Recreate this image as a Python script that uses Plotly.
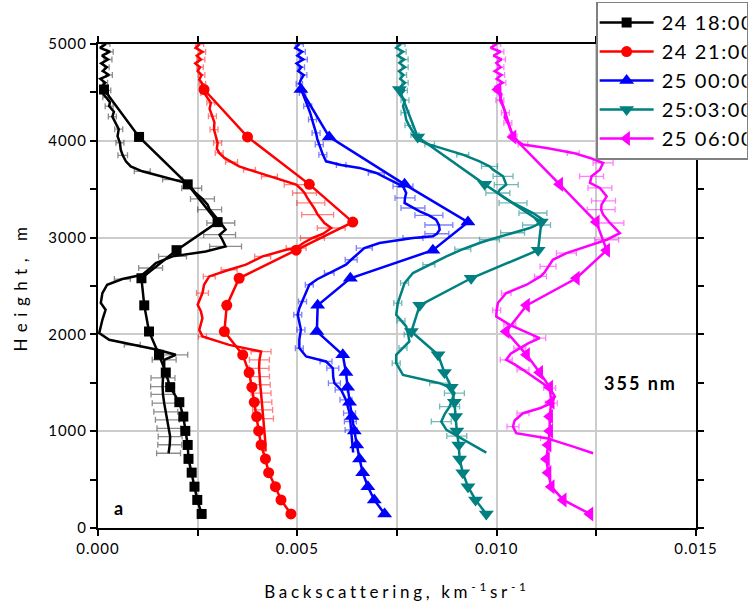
import plotly.graph_objects as go

# ---- coarse profiles (marker lines) ----
coarse_height = [145, 290, 427, 572, 714, 858, 1003, 1151, 1300, 1455, 1606, 1789,
                 2030, 2300, 2580, 2870, 3160, 3550, 4040, 4530]

coarse_2418 = [0.00260, 0.00249, 0.00242, 0.00235, 0.00227, 0.00225, 0.00219, 0.00214,
               0.00204, 0.00181, 0.00170, 0.00153, 0.00128, 0.00116, 0.00109, 0.00197,
               0.00300, 0.00225, 0.00103, 0.00015]
coarse_2421 = [0.00484, 0.00459, 0.00445, 0.00428, 0.00420, 0.00409, 0.00403, 0.00398,
               0.00392, 0.00386, 0.00379, 0.00363, 0.00317, 0.00323, 0.00354, 0.00497,
               0.00639, 0.00530, 0.00375, 0.00266]
coarse_2500 = [0.00719, 0.00693, 0.00677, 0.00664, 0.00656, 0.00649, 0.00643, 0.00637,
               0.00631, 0.00626, 0.00622, 0.00614, 0.00549, 0.00551, 0.00633, 0.00840,
               0.00928, 0.00769, 0.00580, 0.00509]
coarse_2503 = [0.00974, 0.00947, 0.00928, 0.00915, 0.00907, 0.00905, 0.00900, 0.00897,
               0.00894, 0.00886, 0.00869, 0.00853, 0.00786, 0.00807, 0.00936, 0.01104,
               0.01112, 0.00970, 0.00802, 0.00756]
coarse_2506 = [0.01234, 0.01167, 0.01137, 0.01129, 0.01125, 0.01129, 0.01133, 0.01133,
               0.01137, 0.01133, 0.01108, 0.01075, 0.01024, 0.01075, 0.01200, 0.01276,
               0.01250, 0.01158, 0.01041, 0.01003]

# ---- detailed profiles (height, value, error) ----
fine_2418_h = [5000, 4960, 4920, 4880, 4840, 4800, 4760, 4720, 4680, 4640, 4600, 4560, 4520,
               4495, 4450, 4400, 4357, 4300, 4250, 4185, 4120, 4047, 3980, 3909, 3850, 3788,
               3736, 3685, 3640, 3599, 3565, 3510, 3461, 3400, 3340, 3290, 3237, 3151, 3082,
               3030, 2978, 2909, 2857, 2806, 2737, 2686, 2616, 2572, 2513, 2427, 2324, 2254,
               2151, 2013, 1944, 1892, 1841, 1789, 1737, 1634, 1550, 1461, 1380, 1290, 1200,
               1117, 1030, 944, 860, 772]
fine_2418_v = [0.00020, 0.00005, 0.00030, 0.00010, 0.00025, 0.00008, 0.00022, 0.00012,
               0.00028, 0.00006, 0.00018, 0.00010, 0.00024, 0.00011, 0.00020, 0.00030,
               0.00028, 0.00040, 0.00036, 0.00044, 0.00052, 0.00049, 0.00055, 0.00057,
               0.00062, 0.00070, 0.00082, 0.00111, 0.00150, 0.00187, 0.00220, 0.00235,
               0.00245, 0.00262, 0.00275, 0.00280, 0.00291, 0.00308, 0.00320, 0.00305,
               0.00312, 0.00320, 0.00270, 0.00187, 0.00145, 0.00132, 0.00111, 0.00061,
               0.00023, 0.00011, 0.00007, 0.00019, 0.00011, 0.00003, 0.00028, 0.00086,
               0.00149, 0.00195, 0.00166, 0.00166, 0.00163, 0.00162, 0.00163, 0.00166,
               0.00170, 0.00174, 0.00178, 0.00181, 0.00180, 0.00177]
fine_2418_e = [0.00010, 0, 0.00008, 0, 0.00010, 0, 0.00006, 0, 0.00008, 0, 0.00006, 0, 0.00008,
               0, 0.00008, 0, 0.00010, 0, 0.00010, 0, 0.00010, 0, 0.00010, 0, 0.00012, 0,
               0, 0.00020, 0, 0.00025, 0, 0.00025, 0, 0.00030, 0, 0.00030, 0, 0.00035, 0,
               0.00040, 0, 0.00040, 0, 0.00035, 0, 0.00030, 0, 0.00020, 0, 0, 0, 0, 0, 0,
               0, 0.00020, 0, 0.00030, 0.00030, 0, 0.00030, 0.00030, 0.00030, 0.00030, 0.00030,
               0.00030, 0.00030, 0.00030, 0.00030, 0.00030]

fine_2421_h = [5000, 4960, 4920, 4880, 4840, 4800, 4760, 4720, 4680, 4633, 4590, 4540, 4495,
               4440, 4392, 4330, 4254, 4190, 4116, 4050, 3978, 3920, 3875, 3823, 3780, 3736,
               3700, 3668, 3630, 3599, 3547, 3500, 3461, 3410, 3358, 3300, 3237, 3151, 3099,
               3040, 2996, 2944, 2892, 2875, 2806, 2720, 2668, 2616, 2599, 2513, 2427, 2306,
               2240, 2168, 2100, 2047, 1978, 1892, 1823, 1737, 1650, 1564, 1480, 1393, 1300,
               1220, 1130, 1048, 960, 876, 789]
fine_2421_v = [0.00255, 0.00245, 0.00262, 0.00248, 0.00258, 0.00244, 0.00256, 0.00250,
               0.00260, 0.00254, 0.00262, 0.00258, 0.00266, 0.00276, 0.00283, 0.00280,
               0.00287, 0.00292, 0.00291, 0.00296, 0.00300, 0.00298, 0.00304, 0.00317,
               0.00335, 0.00354, 0.00380, 0.00405, 0.00430, 0.00455, 0.00497, 0.00510,
               0.00518, 0.00525, 0.00534, 0.00543, 0.00551, 0.00568, 0.00585, 0.00565,
               0.00538, 0.00515, 0.00497, 0.00472, 0.00413, 0.00371, 0.00329, 0.00287,
               0.00279, 0.00266, 0.00262, 0.00250, 0.00258, 0.00262, 0.00258, 0.00254,
               0.00262, 0.00329, 0.00409, 0.00405, 0.00404, 0.00405, 0.00407, 0.00409,
               0.00411, 0.00413, 0.00415, 0.00417, 0.00419, 0.00420, 0.00420]
fine_2421_e = [0.00010, 0, 0.00008, 0, 0.00010, 0, 0.00008, 0, 0.00008, 0, 0.00008, 0, 0.00008,
               0, 0.00010, 0, 0.00010, 0, 0.00010, 0, 0.00010, 0, 0.00010, 0, 0.00015, 0,
               0.00015, 0, 0.00020, 0, 0.00030, 0, 0.00030, 0, 0.00035, 0, 0.00040, 0, 0.00035,
               0, 0.00030, 0, 0.00025, 0, 0.00020, 0, 0.00020, 0, 0.00015, 0, 0.00015, 0,
               0, 0, 0, 0, 0.00010, 0, 0.00025, 0.00025, 0.00025, 0.00025, 0.00025, 0.00025,
               0.00025, 0.00025, 0.00025, 0, 0, 0, 0]

fine_2500_h = [5000, 4960, 4920, 4880, 4840, 4800, 4760, 4720, 4680, 4633, 4590, 4540, 4495,
               4430, 4357, 4290, 4219, 4150, 4081, 4020, 3961, 3900, 3857, 3788, 3750, 3720,
               3668, 3599, 3530, 3461, 3410, 3358, 3306, 3271, 3230, 3185, 3130, 3082, 3040,
               3013, 2996, 2944, 2892, 2830, 2771, 2720, 2634, 2570, 2513, 2420, 2340, 2270,
               2203, 2120, 2047, 1950, 1858, 1772, 1720, 1651, 1560, 1496, 1427, 1324, 1186,
               1100, 1013, 920, 841, 780]
fine_2500_v = [0.00505, 0.00495, 0.00512, 0.00500, 0.00515, 0.00498, 0.00510, 0.00502,
               0.00516, 0.00509, 0.00505, 0.00515, 0.00513, 0.00520, 0.00526, 0.00532,
               0.00538, 0.00542, 0.00547, 0.00550, 0.00555, 0.00560, 0.00564, 0.00572,
               0.00610, 0.00656, 0.00698, 0.00731, 0.00765, 0.00773, 0.00770, 0.00769,
               0.00790, 0.00807, 0.00830, 0.00848, 0.00855, 0.00857, 0.00850, 0.00840,
               0.00790, 0.00706, 0.00668, 0.00650, 0.00635, 0.00622, 0.00580, 0.00550,
               0.00530, 0.00520, 0.00513, 0.00505, 0.00501, 0.00506, 0.00509, 0.00505,
               0.00505, 0.00522, 0.00572, 0.00589, 0.00590, 0.00593, 0.00610, 0.00622,
               0.00631, 0.00633, 0.00635, 0.00637, 0.00639, 0.00640]
fine_2500_e = [0.00010, 0, 0.00008, 0, 0.00010, 0, 0.00008, 0, 0.00008, 0, 0.00008, 0, 0.00008,
               0, 0.00010, 0, 0.00010, 0, 0.00010, 0, 0.00010, 0, 0.00010, 0, 0.00012, 0,
               0.00020, 0, 0.00025, 0, 0.00025, 0, 0.00030, 0, 0.00035, 0, 0.00035, 0, 0.00030,
               0, 0.00025, 0, 0.00020, 0, 0.00015, 0, 0.00012, 0, 0.00010, 0, 0.00010, 0,
               0.00010, 0, 0.00010, 0, 0.00010, 0, 0.00015, 0.00015, 0, 0.00015, 0.00015,
               0.00015, 0.00015, 0.00015, 0.00015, 0, 0, 0]

fine_2503_h = [5000, 4960, 4920, 4880, 4840, 4805, 4760, 4720, 4680, 4640, 4600, 4564, 4520,
               4470, 4420, 4357, 4290, 4219, 4160, 4116, 4060, 4012, 3961, 3909, 3857, 3788,
               3736, 3702, 3633, 3547, 3495, 3461, 3410, 3358, 3300, 3254, 3185, 3130, 3099,
               3050, 3013, 2978, 2944, 2880, 2806, 2720, 2634, 2530, 2430, 2324, 2203, 2140,
               2082, 2000, 1927, 1860, 1789, 1703, 1582, 1496, 1445, 1393, 1330, 1254, 1180,
               1099, 1013, 950, 892, 779]
fine_2503_v = [0.00760, 0.00748, 0.00765, 0.00752, 0.00768, 0.00756, 0.00770, 0.00755,
               0.00766, 0.00758, 0.00770, 0.00760, 0.00768, 0.00758, 0.00770, 0.00765,
               0.00770, 0.00773, 0.00780, 0.00786, 0.00795, 0.00802, 0.00832, 0.00874,
               0.00915, 0.00957, 0.00982, 0.00991, 0.01016, 0.01024, 0.01008, 0.01003,
               0.01020, 0.01041, 0.01070, 0.01091, 0.01116, 0.01100, 0.01083, 0.01040,
               0.01008, 0.00982, 0.00957, 0.00915, 0.00874, 0.00830, 0.00790, 0.00769,
               0.00760, 0.00752, 0.00748, 0.00760, 0.00773, 0.00778, 0.00781, 0.00765,
               0.00748, 0.00748, 0.00765, 0.00857, 0.00886, 0.00894, 0.00888, 0.00882,
               0.00870, 0.00861, 0.00874, 0.00900, 0.00924, 0.00974]
fine_2503_e = [0.00010, 0, 0.00008, 0, 0.00010, 0, 0.00008, 0, 0.00008, 0, 0.00008, 0, 0.00008,
               0, 0.00010, 0, 0.00010, 0, 0.00010, 0, 0.00010, 0, 0.00012, 0, 0.00015, 0,
               0.00020, 0, 0.00025, 0.00030, 0, 0.00030, 0, 0.00035, 0, 0.00035, 0, 0.00035, 0,
               0.00030, 0, 0.00025, 0, 0.00020, 0, 0.00015, 0, 0.00010, 0, 0.00010, 0,
               0.00010, 0, 0.00010, 0, 0.00010, 0, 0.00010, 0, 0.00025, 0, 0.00025, 0, 0.00025,
               0, 0.00025, 0, 0.00025, 0, 0]

fine_2506_h = [5000, 4960, 4920, 4880, 4840, 4805, 4760, 4720, 4680, 4640, 4600, 4560, 4530,
               4480, 4420, 4357, 4290, 4240, 4185, 4120, 4047, 3990, 3961, 3926, 3875, 3823,
               3771, 3702, 3633, 3565, 3513, 3426, 3380, 3340, 3290, 3237, 3151, 3047, 2978,
               2909, 2840, 2771, 2702, 2640, 2599, 2513, 2427, 2324, 2250, 2185, 2099, 2030,
               1962, 1910, 1858, 1800, 1737, 1690, 1634, 1530, 1445, 1358, 1290, 1240, 1186,
               1110, 1048, 979, 928, 841, 772]
fine_2506_v = [0.01000, 0.00985, 0.01010, 0.00992, 0.01012, 0.00999, 0.01010, 0.00995,
               0.01012, 0.01000, 0.01015, 0.00998, 0.01003, 0.01012, 0.01008, 0.01016,
               0.01022, 0.01020, 0.01028, 0.01035, 0.01041, 0.01055, 0.01066, 0.01125,
               0.01192, 0.01234, 0.01267, 0.01259, 0.01238, 0.01234, 0.01259, 0.01276,
               0.01268, 0.01263, 0.01262, 0.01267, 0.01284, 0.01309, 0.01276, 0.01225,
               0.01175, 0.01141, 0.01129, 0.01120, 0.01110, 0.01075, 0.01024, 0.01003,
               0.01000, 0.00999, 0.01033, 0.01070, 0.01108, 0.01080, 0.01058, 0.01035,
               0.01024, 0.01045, 0.01066, 0.01104, 0.01133, 0.01146, 0.01137, 0.01110,
               0.01066, 0.01045, 0.01041, 0.01049, 0.01125, 0.01192, 0.01242]
fine_2506_e = [0.00010, 0, 0.00008, 0, 0.00010, 0, 0.00008, 0, 0.00008, 0, 0.00008, 0, 0.00008,
               0, 0.00010, 0, 0.00010, 0, 0.00010, 0, 0.00010, 0, 0.00012, 0, 0.00015, 0,
               0.00025, 0, 0.00030, 0, 0.00030, 0, 0.00030, 0, 0.00035, 0, 0.00035, 0, 0.00030,
               0, 0.00025, 0, 0.00020, 0, 0.00015, 0, 0.00012, 0, 0.00010, 0, 0.00015, 0,
               0.00015, 0, 0.00015, 0, 0.00015, 0, 0.00015, 0, 0.00015, 0, 0.00015, 0, 0.00015,
               0, 0.00015, 0, 0.00015, 0, 0]

labels = ["24 18:00", "24 21:00", "25 00:00", "25:03:00", "25 06:00"]
colors = ["#000000", "#ff0000", "#0000ff", "#008080", "#ff00ff"]
err_colors = ["rgba(0,0,0,0.45)", "rgba(255,0,0,0.5)", "rgba(0,0,255,0.5)",
              "rgba(0,128,128,0.55)", "rgba(255,0,255,0.5)"]
symbols = ["square", "circle", "triangle-up", "triangle-down", "triangle-left"]
msizes = [10, 11, 13, 13, 13]

coarse = [coarse_2418, coarse_2421, coarse_2500, coarse_2503, coarse_2506]
fine = [(fine_2418_h, fine_2418_v, fine_2418_e),
        (fine_2421_h, fine_2421_v, fine_2421_e),
        (fine_2500_h, fine_2500_v, fine_2500_e),
        (fine_2503_h, fine_2503_v, fine_2503_e),
        (fine_2506_h, fine_2506_v, fine_2506_e)]

FONT = "Lato"
fig = go.Figure()

for i in range(5):
    fh, fv, fe = fine[i]
    # detailed profile line
    fig.add_trace(go.Scatter(x=fv, y=fh, mode="lines",
                             line=dict(color=colors[i], width=2.5),
                             showlegend=False, hoverinfo="skip"))
    # horizontal error bars on selected points of the detailed profile
    sel = [k for k in range(len(fh)) if fe[k] > 0]
    fig.add_trace(go.Scatter(x=[fv[k] for k in sel], y=[fh[k] for k in sel],
                             mode="markers", marker=dict(size=1, opacity=0),
                             error_x=dict(type="data", array=[fe[k] for k in sel],
                                          color=err_colors[i], thickness=1.3, width=3),
                             showlegend=False, hoverinfo="skip"))

for i in range(5):
    fig.add_trace(go.Scatter(x=coarse[i], y=coarse_height, mode="lines+markers",
                             name=labels[i],
                             line=dict(color=colors[i], width=2.5),
                             marker=dict(symbol=symbols[i], size=msizes[i], color=colors[i])))

fig.add_annotation(x=0.01362, y=1500, text="<b>355 nm</b>", showarrow=False,
                   font=dict(family=FONT, size=18, color="black"))
fig.add_annotation(x=0.00053, y=210, text="<b>a</b>", showarrow=False,
                   font=dict(family=FONT, size=18, color="black"))

axis_common = dict(showline=True, linecolor="black", linewidth=2, mirror="allticks",
                   ticks="outside", ticklen=6, tickwidth=1.5, tickcolor="black",
                   zeroline=False, tickfont=dict(family=FONT, size=15, color="black"))

fig.update_xaxes(range=[0, 0.015], dtick=0.005, tickformat=".3f",
                 showgrid=True, gridcolor="#cccccc", gridwidth=1.5,
                 minor=dict(dtick=0.0025, ticks="outside", ticklen=6, tickwidth=1.5,
                            tickcolor="black", showgrid=True, gridcolor="#cccccc", gridwidth=1.5),
                 title=dict(text="Backscattering, km<sup>-1</sup>sr<sup>-1</sup>",
                            font=dict(family=FONT, size=17, color="black"), standoff=30),
                 **axis_common)
fig.update_yaxes(range=[0, 5000], dtick=1000,
                 showgrid=True, gridcolor="#cccccc", gridwidth=1.5,
                 minor=dict(dtick=500, ticks="outside", ticklen=6, tickwidth=1.5,
                            tickcolor="black", showgrid=False),
                 title=dict(text="Height, m", font=dict(family=FONT, size=17, color="black"),
                            standoff=20),
                 **axis_common)

fig.update_layout(
    width=756, height=609,
    margin=dict(l=98, r=60, t=44, b=81, autoexpand=False),
    paper_bgcolor="white", plot_bgcolor="white",
    legend=dict(x=0.833, y=1.0876, xanchor="left", yanchor="top",
                bgcolor="white", bordercolor="#808080", borderwidth=1.5,
                font=dict(family=FONT, size=20, color="black"),
                itemwidth=54),
    showlegend=True,
)

# letter spacing of the text elements, and longer legend sample lines
post_js = """
var gd = document.getElementsByClassName('plotly-graph-div')[0];
function spread(sel, px) {
  gd.querySelectorAll(sel).forEach(function (el) { el.style.letterSpacing = px; });
}
spread('.legendtext', '1.6px');
spread('.xtitle', '3.7px');
spread('.ytitle', '6.5px');
spread('.xtick text', '1px');
spread('.ytick text', '1px');
spread('.annotation-text', '2px');
gd.querySelectorAll('.legendlines path').forEach(function (p) { p.setAttribute('d', 'M2,0h54'); });
gd.querySelectorAll('.legendpoints path').forEach(function (p) { p.setAttribute('transform', 'translate(29,0)'); });
"""

fig.write_html("out.html", post_script=post_js)
